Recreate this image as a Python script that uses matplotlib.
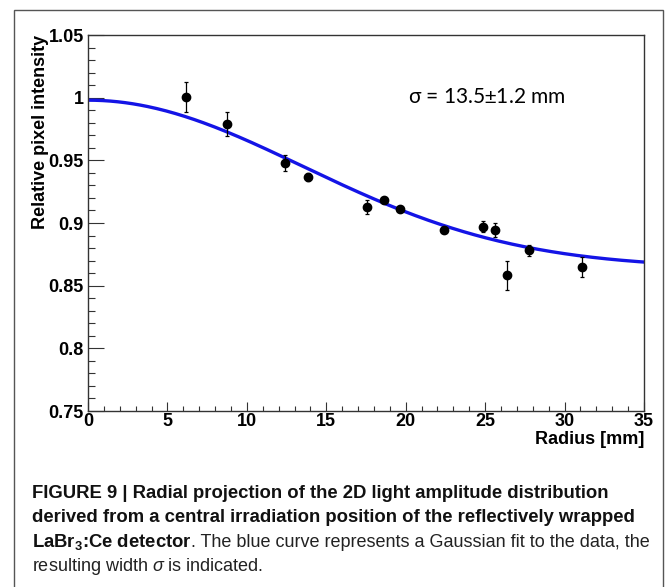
# -*- coding: utf-8 -*- python3
""" Radial projection plot with gaussian fit (ROOT-like look) + caption
"""
import numpy as np
import matplotlib
matplotlib.use('Agg')
import matplotlib.pyplot as plt
import matplotlib.patches as mpatches
from matplotlib.ticker import MultipleLocator, FormatStrFormatter

# data
radius = [6.17, 8.77, 12.41, 13.84, 17.58, 18.61, 19.62, 22.40, 24.84, 25.62, 26.40, 27.79, 31.09]
intensity = [1.0003, 0.979, 0.948, 0.9367, 0.9127, 0.9183, 0.9114, 0.8946, 0.897, 0.8944, 0.8582, 0.8782, 0.8648]
intensity_err = [0.012, 0.0097, 0.0063, 0.0035, 0.0055, 0.0015, 0.0015, 0.0015, 0.0044, 0.0058, 0.0115, 0.0044, 0.0078]

# gaussian fit parameters (offset + amplitude*exp(-r^2/2s^2))
fit_offset = 0.8642
fit_amplitude = 0.1338
fit_sigma = 13.5
fit_sigma_err = 1.2
fit_range = [0, 35]

x_ticks = [0, 5, 10, 15, 20, 25, 30, 35]
y_range = [0.75, 1.05]

caption_lines = [
    'FIGURE 9 | Radial projection of the 2D light amplitude distribution',
    'derived from a central irradiation position of the reflectively wrapped',
]
caption_bold3 = r'LaBr$_\mathbf{3}$:Ce detector'
caption_reg3 = '. The blue curve represents a Gaussian fit to the data, the'
caption_line4 = r'resulting width $\sigma$ is indicated.'

W, H = 668, 587


def fx(px):
    return px / W


def fy(py):
    return 1 - py / H


def main():
    plt.rcParams['font.family'] = ['Liberation Sans', 'DejaVu Sans']
    plt.rcParams['mathtext.fontset'] = 'custom'
    plt.rcParams['mathtext.rm'] = 'Liberation Sans'
    plt.rcParams['mathtext.it'] = 'Liberation Sans:italic'
    plt.rcParams['mathtext.bf'] = 'Liberation Sans:bold'

    fig = plt.figure(figsize=(W / 100, H / 100), dpi=100)
    ax = fig.add_axes([fx(88), fy(411), fx(644) - fx(88), fy(35) - fy(411)])

    # fit curve
    r = np.linspace(fit_range[0], fit_range[1], 300)
    f = fit_offset + fit_amplitude * np.exp(-r**2 / (2 * fit_sigma**2))
    ax.plot(r, f, color='#1414e6', lw=2.4, zorder=2)

    # data points
    ax.errorbar(radius, intensity, yerr=intensity_err, fmt='o', color='black',
                ms=6, elinewidth=0.9, capsize=1.6, capthick=0.9, zorder=3)

    ax.set_xlim(x_ticks[0], x_ticks[-1])
    ax.set_ylim(y_range)
    ax.xaxis.set_major_locator(MultipleLocator(5))
    ax.xaxis.set_minor_locator(MultipleLocator(1))
    ax.yaxis.set_major_locator(MultipleLocator(0.05))
    ax.yaxis.set_minor_locator(MultipleLocator(0.01))
    ax.yaxis.set_major_formatter(FormatStrFormatter('%g'))

    ax.tick_params(axis='y', which='major', direction='in', length=11.5, width=0.8,
                   color='#333333', pad=3, labelsize=13)
    ax.tick_params(axis='y', which='minor', direction='in', length=5.3, width=0.8, color='#333333')
    ax.tick_params(axis='x', which='major', direction='in', length=6.8, width=0.8,
                   color='#333333', pad=1.5, labelsize=13)
    ax.tick_params(axis='x', which='minor', direction='in', length=3.6, width=0.8, color='#333333')
    for lab in ax.get_xticklabels() + ax.get_yticklabels():
        lab.set_fontweight('bold')
    for sp in ax.spines.values():
        sp.set_color('#333333')
        sp.set_linewidth(1.0)

    # axis titles, ROOT style (aligned to the end of the axis)
    fig.text(fx(644), fy(440), 'Radius [mm]', ha='right', va='center',
             fontsize=13, fontweight='bold')
    fig.text(fx(41), fy(35), 'Relative pixel intensity', ha='center', va='top',
             rotation=90, fontsize=13, fontweight='bold')

    # fit result
    ax.text(fx(408), fy(97), r'σ = %.1f$\pm$%.1f mm' % (fit_sigma, fit_sigma_err),
            transform=fig.transFigure, ha='left', va='center', fontsize=15,
            family=['Lato', 'DejaVu Sans'])

    # outer frame around figure + caption
    frame = mpatches.Rectangle((fx(14), -0.05), fx(663) - fx(14), fy(10) + 0.05,
                               transform=fig.transFigure, fill=False,
                               edgecolor='#555555', lw=1.0, clip_on=False)
    fig.patches.append(frame)

    # caption
    cap_size = 13.3
    reg_size = 13.0
    baselines = [498.3, 522.5, 546.7, 570.9]
    x0 = fx(31.7)
    for i, line in enumerate(caption_lines):
        fig.text(x0, fy(baselines[i]), line, ha='left', va='baseline',
                 fontsize=cap_size, fontweight='bold', color='#111111')
    rend = fig.canvas.get_renderer()
    t = fig.text(x0, fy(baselines[2]), caption_bold3, ha='left', va='baseline',
                 fontsize=cap_size, fontweight='bold', color='#111111')
    bb = t.get_window_extent(renderer=rend)
    fig.text(bb.x1 / fig.bbox.width, fy(baselines[2]), caption_reg3, ha='left',
             va='baseline', fontsize=reg_size, color='#222222')
    fig.text(x0, fy(baselines[3]), caption_line4, ha='left', va='baseline',
             fontsize=reg_size, color='#222222')

    fig.savefig('out.png', dpi=100)


if __name__ == '__main__':
    main()
